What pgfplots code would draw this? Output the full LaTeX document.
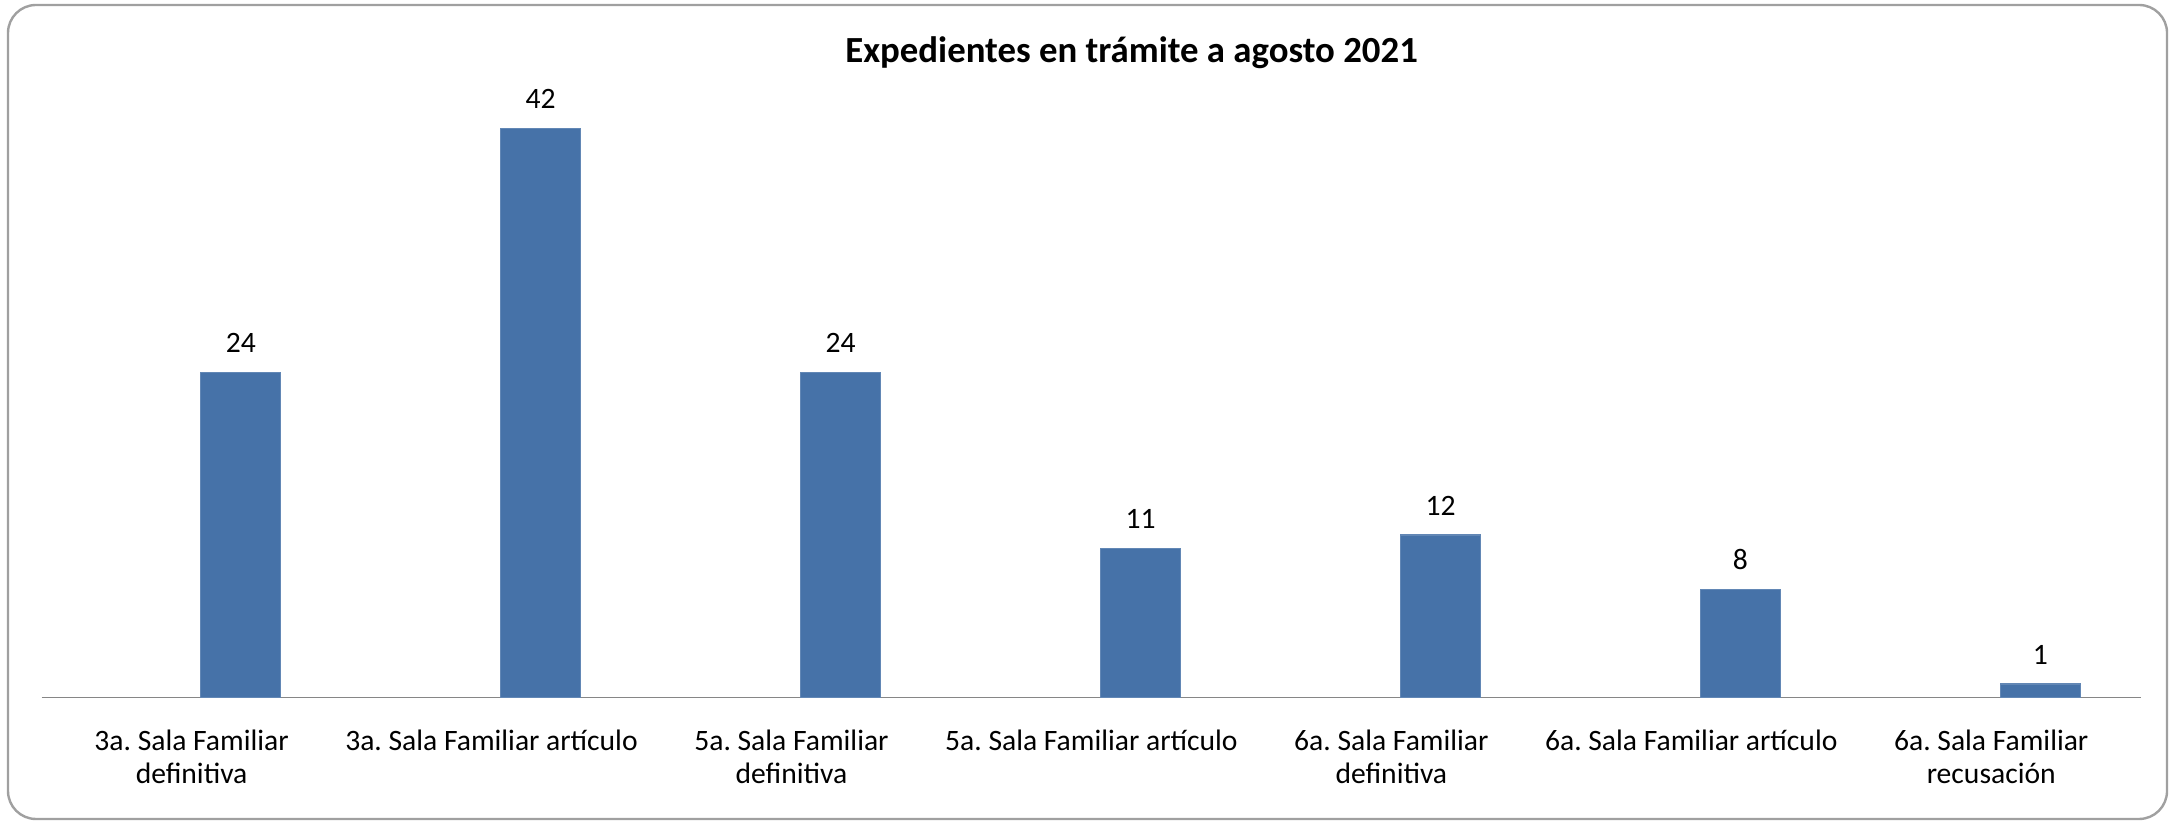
\documentclass[border=0pt]{standalone}
\usepackage{pgfplots}
\pgfplotsset{compat=1.18}
\usepackage{fontspec}
\setmainfont{Carlito}
\definecolor{barblue}{HTML}{4672A8}
\definecolor{axgray}{HTML}{868686}
\definecolor{framegray}{HTML}{A0A0A0}
\begin{document}
\frenchspacing
\begin{tikzpicture}
\begin{axis}[
  scale only axis, width=524.9pt, height=152.5pt,
  xmin=-0.5, xmax=6.5, ymin=0, ymax=45,
  axis x line*=bottom, axis y line=none,
  x axis line style={axgray, line width=0.45pt, -},
  /pgf/number format/assume math mode=true,
  xtick={0,...,6}, major tick length=0pt,
  xticklabels={{3a. Sala Familiar\\definitiva},{3a. Sala Familiar artículo},{5a. Sala Familiar\\definitiva},{5a. Sala Familiar artículo},{6a. Sala Familiar\\definitiva},{6a. Sala Familiar artículo},{6a. Sala Familiar\\recusación}},
  xticklabel style={font=\fontsize{7.4}{8.2}\selectfont, align=center, yshift=-4.5pt},
  ybar, bar width=20pt, bar shift=12.3pt,
  nodes near coords,
  every node near coord/.append style={font=\fontsize{7.4}{8.2}\selectfont, black, yshift=1.4pt},
]
\addplot[fill=barblue, draw=barblue!85!white, line width=0.3pt] coordinates {(0,24) (1,42) (2,24) (3,11) (4,12) (5,8) (6,1)};
\end{axis}
\node[font=\bfseries\fontsize{9.2}{11}\selectfont] at (272.5pt,161.3pt) {Expedientes en trámite a agosto 2021};
\draw[framegray, line width=0.6pt, rounded corners=7pt] (-8.4pt,-30.35pt) rectangle (531.35pt,173.15pt);
\pgfresetboundingbox
\path[use as bounding box] (-10.4pt,-31.1pt) rectangle (531.85pt,174.4pt);
\end{tikzpicture}
\end{document}
